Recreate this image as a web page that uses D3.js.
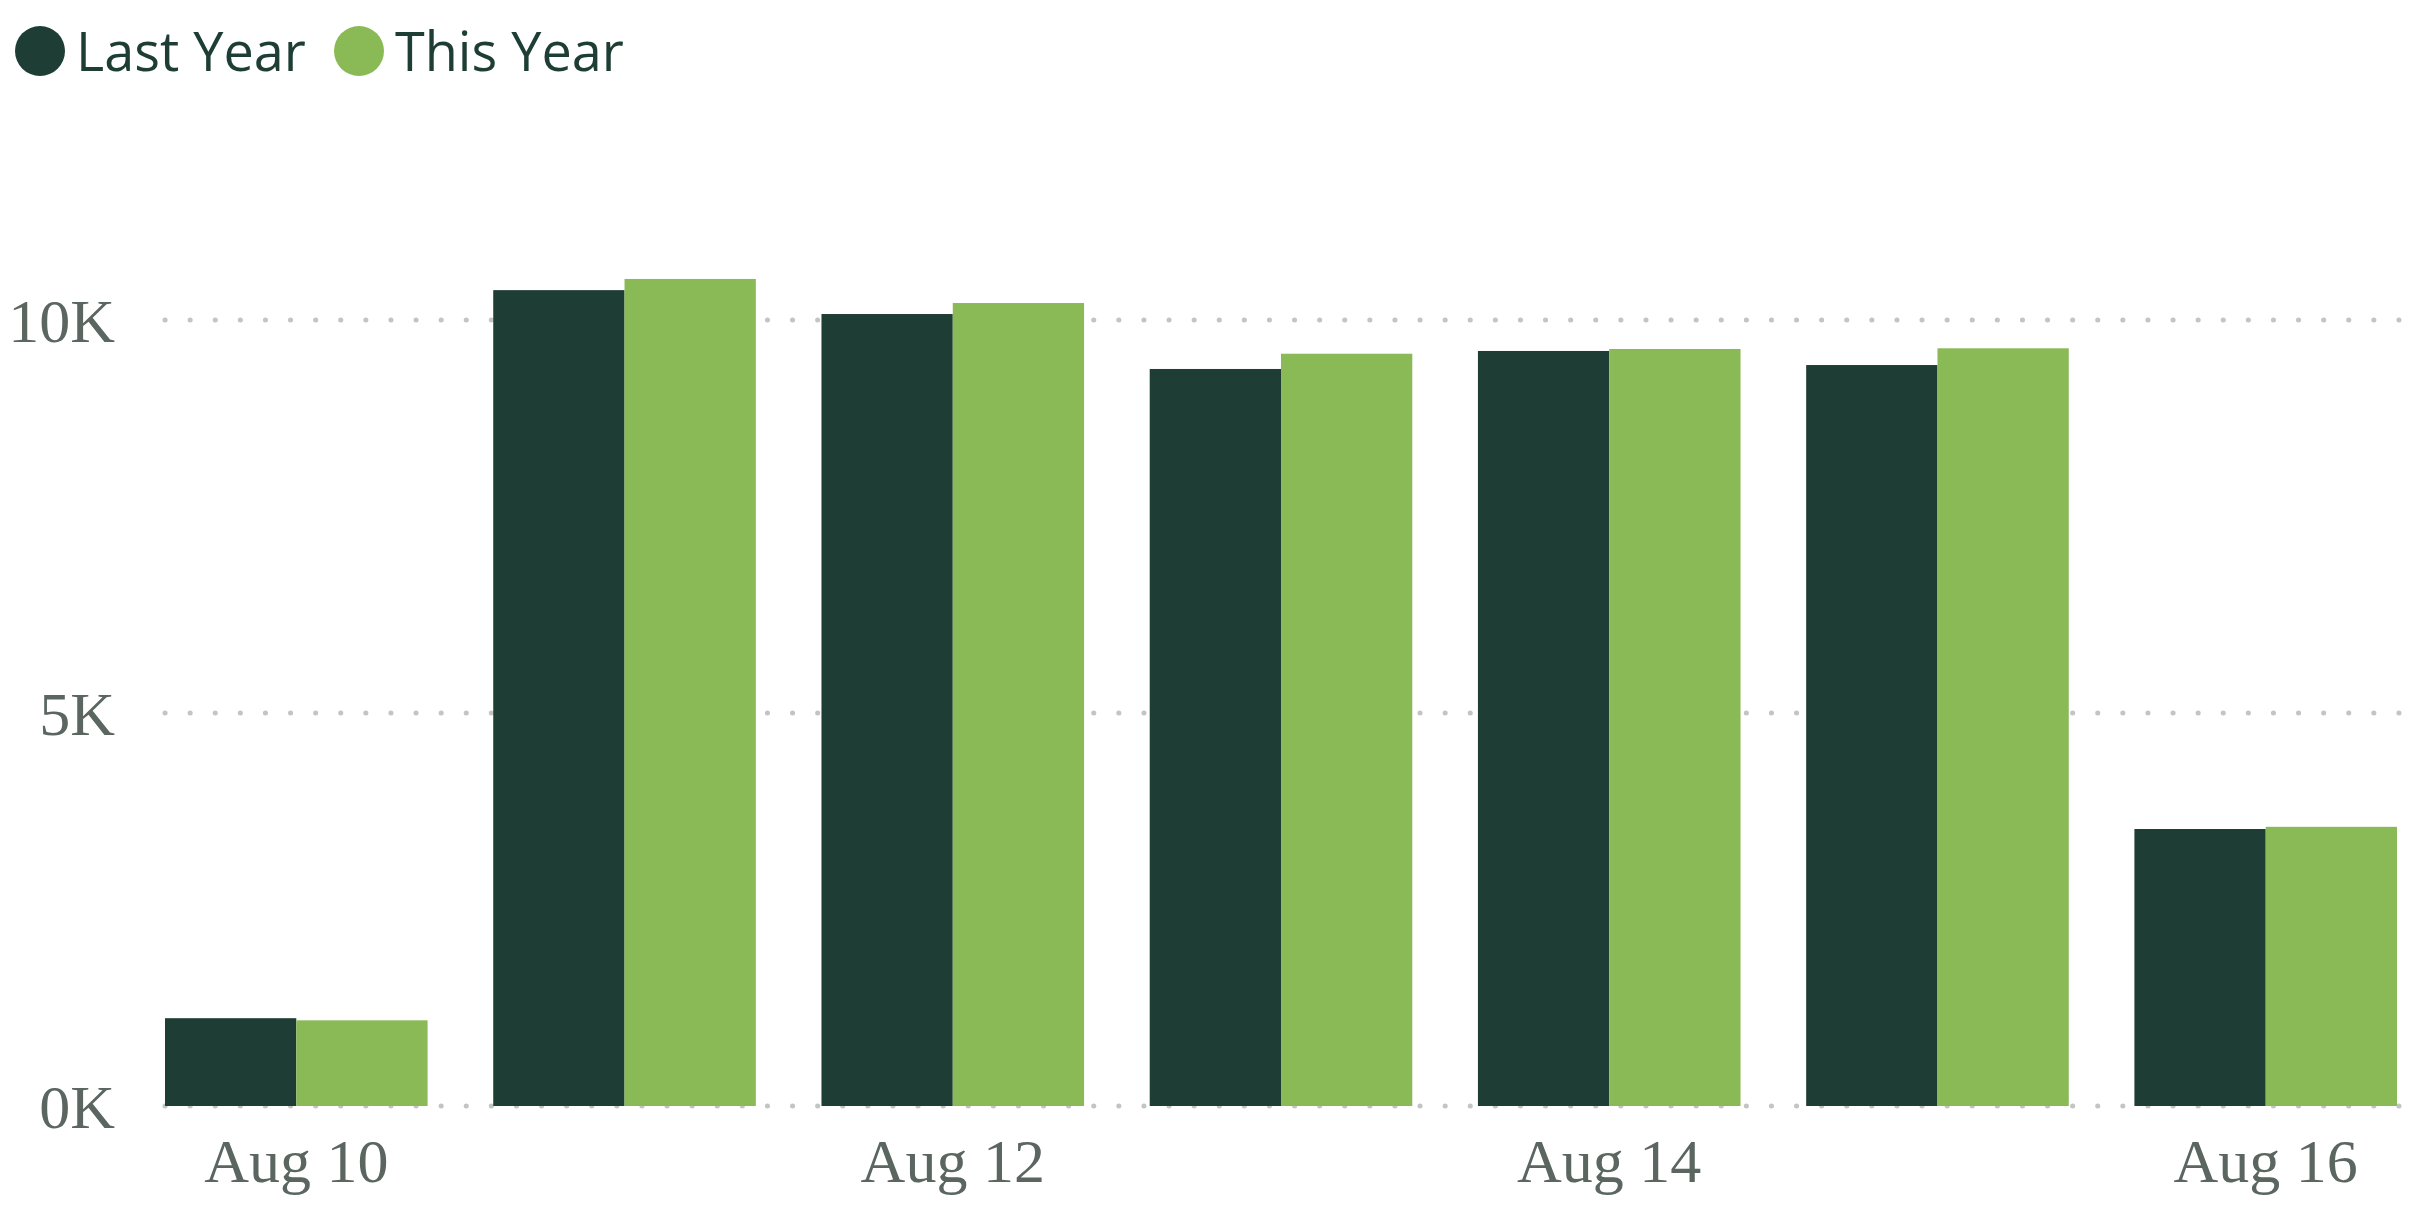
<!DOCTYPE html>
<html>
<head>
<meta charset="utf-8">
<script src="https://cdn.jsdelivr.net/npm/d3@7"></script>
<style>
  html, body { margin: 0; padding: 0; background: #fff; }
  svg { display: block; }
</style>
</head>
<body>
<svg></svg>
<script>
// daily totals, last year vs this year
var days = ["Aug 10", "Aug 11", "Aug 12", "Aug 13", "Aug 14", "Aug 15", "Aug 16"];
var shownDays = ["Aug 10", "Aug 12", "Aug 14", "Aug 16"];
var seriesNames = ["Last Year", "This Year"];
var lastYear = [1117, 10380, 10076, 9377, 9606, 9427, 3524];
var thisYear = [1090, 10522, 10216, 9571, 9631, 9640, 3552];
var yTicks = [0, 5000, 10000];
var colors = ["#1e3d35", "#8aba56"];

var svgWidth = 2422, svgHeight = 1210;

var svg = d3.select("svg")
    .attr("width", svgWidth)
    .attr("height", svgHeight);

var data = days.map(function(d, i) {
  return { day: d, values: [lastYear[i], thisYear[i]] };
});

var xScale = d3.scaleBand()
    .domain(days)
    .range([165, 2397])
    .paddingInner(0.2)
    .paddingOuter(0);

var xSub = d3.scaleBand()
    .domain(seriesNames)
    .range([0, xScale.bandwidth()]);

var yScale = d3.scaleLinear()
    .domain([0, 10000])
    .range([1106, 320]);

// dotted gridlines
svg.append("g")
  .selectAll("line")
  .data(yTicks)
  .enter().append("line")
    .attr("x1", 165)
    .attr("x2", svgWidth)
    .attr("y1", function(d) { return yScale(d); })
    .attr("y2", function(d) { return yScale(d); })
    .attr("stroke", "#c4c4c4")
    .attr("stroke-width", 5)
    .attr("stroke-linecap", "round")
    .attr("stroke-dasharray", "0.1 25");

// y axis labels
var y_axis = d3.axisLeft(yScale)
    .tickValues(yTicks)
    .tickSize(0)
    .tickPadding(0)
    .tickFormat(function(d) { return (d / 1000) + "K"; });

var yg = svg.append("g")
    .attr("transform", "translate(115,0)")
    .call(y_axis);
yg.select(".domain").remove();
yg.selectAll("text")
    .attr("font-family", "'Liberation Serif', 'Times New Roman', serif")
    .attr("font-size", 62)
    .attr("fill", "#5b6660")
    .attr("dy", "0.34em");

// bars
var groups = svg.append("g")
  .selectAll("g")
  .data(data)
  .enter().append("g")
    .attr("transform", function(d) { return "translate(" + xScale(d.day) + ",0)"; });

groups.selectAll("rect")
  .data(function(d) { return d.values.map(function(v, i) { return { name: seriesNames[i], value: v, i: i }; }); })
  .enter().append("rect")
    .attr("x", function(d) { return xSub(d.name); })
    .attr("y", function(d) { return yScale(d.value); })
    .attr("width", xSub.bandwidth())
    .attr("height", function(d) { return yScale(0) - yScale(d.value); })
    .attr("fill", function(d) { return colors[d.i]; });

// x axis labels (every other day)
var x_axis = d3.axisBottom(xScale)
    .tickValues(shownDays)
    .tickSize(0)
    .tickPadding(0);

var xg = svg.append("g")
    .attr("transform", "translate(0,1106)")
    .call(x_axis);
xg.select(".domain").remove();
xg.selectAll("text")
    .attr("font-family", "'Liberation Serif', 'Times New Roman', serif")
    .attr("font-size", 62)
    .attr("fill", "#5b6660")
    .attr("dy", 0)
    .attr("y", 76);

// legend
var legendX = [40, 359];
var legend = svg.append("g")
  .selectAll("g")
  .data(seriesNames)
  .enter().append("g")
    .attr("transform", function(d, i) { return "translate(" + legendX[i] + ",51)"; });

legend.append("circle")
    .attr("r", 25)
    .attr("fill", function(d, i) { return colors[i]; });

legend.append("text")
    .attr("x", 36)
    .attr("y", 20)
    .attr("font-family", "'Segoe UI', 'Open Sans', sans-serif")
    .attr("font-size", 54)
    .attr("fill", "#1e3d35")
    .text(function(d) { return d; });
</script>
</body>
</html>
